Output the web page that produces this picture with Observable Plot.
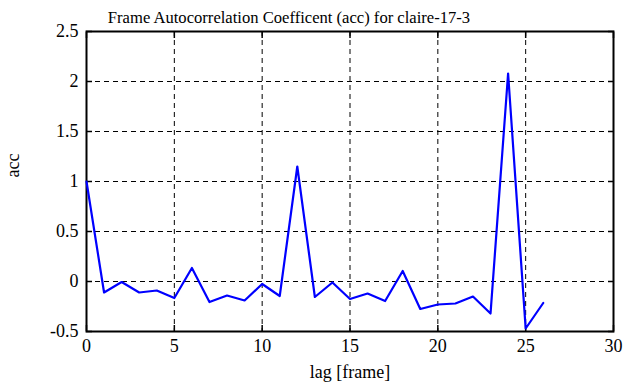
<!DOCTYPE html>
<html>
<head>
<meta charset="utf-8">
<script src="https://cdn.jsdelivr.net/npm/d3@7"></script>
<script src="https://cdn.jsdelivr.net/npm/@observablehq/plot@0.6"></script>
<style>
  html, body { margin: 0; padding: 0; background: #fff; }
  svg, svg text, svg g { font-family: "Liberation Serif", "DejaVu Serif", serif !important; font-variant: normal !important; font-variant-numeric: normal !important; }
</style>
</head>
<body>
<div id="chart"></div>
<script>
const lags = [0,1,2,3,4,5,6,7,8,9,10,11,12,13,14,15,16,17,18,19,20,21,22,23,24,25,26];
const acc = [1.0,-0.11,-0.005,-0.11,-0.09,-0.165,0.135,-0.205,-0.14,-0.19,-0.025,-0.145,1.15,-0.155,-0.01,-0.175,-0.12,-0.195,0.105,-0.275,-0.23,-0.22,-0.15,-0.32,2.08,-0.47,-0.215];
const xTicks = [0,5,10,15,20,25,30];
const yTicks = [-0.5,0,0.5,1,1.5,2,2.5];
const title = "Frame Autocorrelation Coefficent (acc) for claire-17-3";
const xLabel = "lag [frame]";
const yLabel = "acc";

const data = lags.map((l, i) => ({lag: l, acc: acc[i]}));
const fmt = d => String(d);
const innerX = xTicks.slice(1, -1);
const innerY = yTicks.slice(1, -1);
const serif = "Liberation Serif";

const chart = Plot.plot({
  width: 630,
  height: 387,
  marginLeft: 86,
  marginRight: 17,
  marginTop: 31,
  marginBottom: 56,
  style: {fontFamily: serif, fontSize: "18px", color: "#000", background: "#fff"},
  x: {domain: [0, 30]},
  y: {domain: [-0.5, 2.5]},
  marks: [
    Plot.gridX(innerX, {stroke: "#000", strokeOpacity: 1, strokeDasharray: "5,4", strokeWidth: 1}),
    Plot.gridY(innerY, {stroke: "#000", strokeOpacity: 1, strokeDasharray: "5,4", strokeWidth: 1}),
    Plot.axisX(xTicks, {anchor: "bottom", tickSize: -6, tickPadding: 14, tickFormat: fmt, label: null, strokeWidth: 1.5, fontSize: 18, fontFamily: serif, fontVariant: "normal"}),
    Plot.axisX(xTicks, {anchor: "top", tickSize: -6, tickFormat: () => "", label: null, strokeWidth: 1.5}),
    Plot.axisY(yTicks, {anchor: "left", tickSize: -6, tickPadding: 14, tickFormat: fmt, label: null, strokeWidth: 1.5, fontSize: 18, fontFamily: serif, fontVariant: "normal"}),
    Plot.axisY(yTicks, {anchor: "right", tickSize: -6, tickFormat: () => "", label: null, strokeWidth: 1.5}),
    Plot.frame({stroke: "#000", strokeWidth: 2}),
    Plot.line(data, {x: "lag", y: "acc", stroke: "#0000ff", strokeWidth: 2.2}),
    Plot.text([title], {frameAnchor: "top", dx: -61, dy: -20, fontSize: 16.6, fontFamily: serif, fill: "#000"}),
    Plot.text([xLabel], {frameAnchor: "bottom", dy: 46, fontSize: 18, fontFamily: serif, fill: "#000"}),
    Plot.text([yLabel], {frameAnchor: "left", dx: -73, dy: -4, rotate: -90, fontSize: 18, fontFamily: serif, fill: "#000"})
  ]
});
document.getElementById("chart").appendChild(chart);
</script>
</body>
</html>
